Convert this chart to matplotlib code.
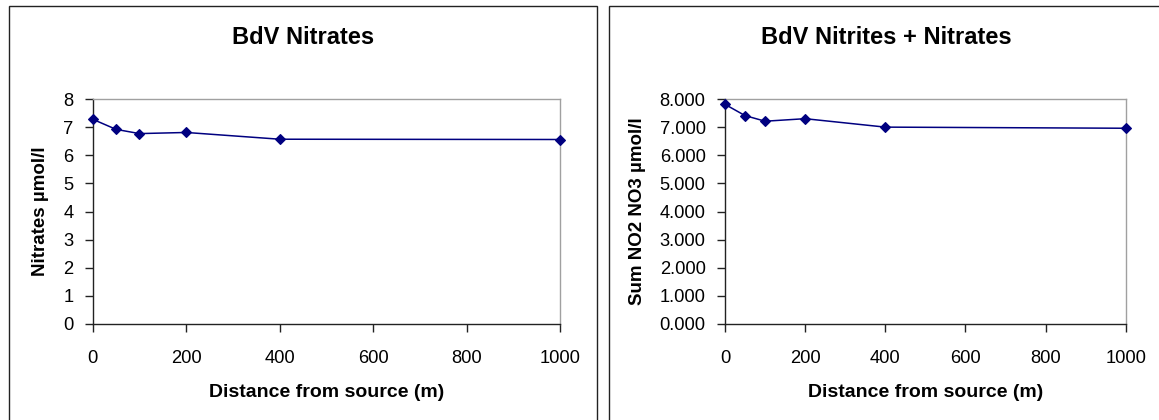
import numpy as np
import matplotlib.pyplot as plt
from matplotlib.patches import Rectangle
from matplotlib.ticker import FormatStrFormatter

plt.rcParams['font.family'] = ['Liberation Sans', 'DejaVu Sans']

# distance from source (m)
distance = [0, 50, 100, 200, 400, 1000]
# nitrates µmol/l
nitrates = [7.28, 6.92, 6.77, 6.81, 6.57, 6.56]
# sum of nitrites + nitrates µmol/l
sum_no2_no3 = [7.81, 7.41, 7.21, 7.30, 7.00, 6.96]

x_ticks = [0, 200, 400, 600, 800, 1000]
y_ticks = [0, 1, 2, 3, 4, 5, 6, 7, 8]

W, H = 1159, 420
fig = plt.figure(figsize=(W / 100, H / 100), dpi=100)
fig.patch.set_facecolor('white')

# chart frames
fig.patches.append(Rectangle((8.5 / W, -0.1), (597 - 8.5) / W, 1.1 - 6.5 / H,
                             transform=fig.transFigure, fill=False,
                             edgecolor='#222222', linewidth=1.0))
fig.patches.append(Rectangle((609 / W, -0.1), 0.5, 1.1 - 6.5 / H,
                             transform=fig.transFigure, fill=False,
                             edgecolor='#222222', linewidth=1.0))

ax1 = fig.add_axes([92.7 / W, 1 - 324 / H, (560.3 - 92.7) / W, 225 / H])
ax2 = fig.add_axes([725 / W, 1 - 324 / H, (1125.7 - 725) / W, 225 / H])


def style_axis(ax, values, ylabel, yfmt):
    ax.plot(values[0], values[1], color='#000080', linewidth=1.1,
            marker='D', markersize=5.0, markerfacecolor='#000080',
            markeredgecolor='#000080', markeredgewidth=0.8, clip_on=False,
            zorder=5)
    ax.set_xlim(0, 1000)
    ax.set_ylim(0, 8)
    ax.set_xticks(x_ticks)
    ax.set_yticks(y_ticks)
    ax.yaxis.set_major_formatter(FormatStrFormatter(yfmt))
    for side in ['top', 'right']:
        ax.spines[side].set_color('#a0a0a0')
        ax.spines[side].set_linewidth(1.0)
    for side in ['left', 'bottom']:
        ax.spines[side].set_color('#222222')
        ax.spines[side].set_linewidth(1.0)
    ax.tick_params(axis='both', direction='out', length=5.5, width=1.0,
                   colors='#222222', labelcolor='black', labelsize=13.2)
    ax.tick_params(axis='y', pad=8.5)
    ax.tick_params(axis='x', pad=13.5)
    ax.set_xlabel('Distance from source (m)', fontsize=14, fontweight='bold',
                  labelpad=12)
    ax.set_ylabel(ylabel, fontsize=13.5, fontweight='bold', labelpad=10)


style_axis(ax1, (distance, nitrates), 'Nitrates µmol/l', '%d')
style_axis(ax2, (distance, sum_no2_no3), 'Sum NO2 NO3 µmol/l', '%.3f')

fig.text(303 / W, 1 - 38 / H, 'BdV Nitrates', ha='center', va='center',
         fontsize=17, fontweight='bold')
fig.text(886 / W, 1 - 38 / H, 'BdV Nitrites + Nitrates', ha='center',
         va='center', fontsize=17, fontweight='bold')

fig.savefig('out.png', dpi=100, facecolor='white')
